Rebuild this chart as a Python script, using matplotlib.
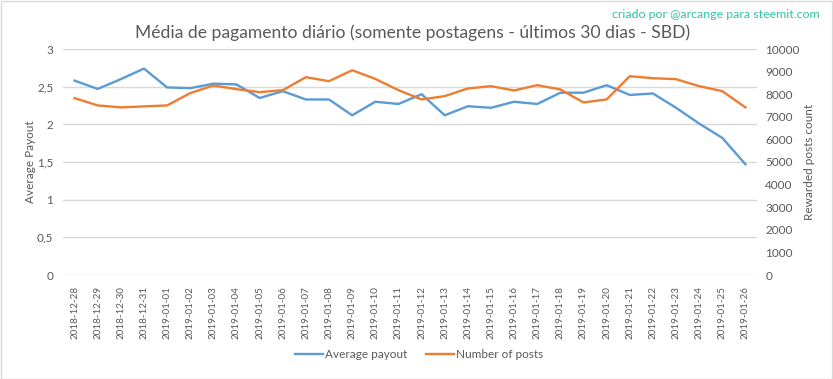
import matplotlib
matplotlib.use("Agg")
import matplotlib.pyplot as plt
from matplotlib.patches import Rectangle
from matplotlib.lines import Line2D

plt.rcParams['font.family'] = ['Lato', 'DejaVu Sans']

dates = ["2018-12-28", "2018-12-29", "2018-12-30", "2018-12-31", "2019-01-01",
         "2019-01-02", "2019-01-03", "2019-01-04", "2019-01-05", "2019-01-06",
         "2019-01-07", "2019-01-08", "2019-01-09", "2019-01-10", "2019-01-11",
         "2019-01-12", "2019-01-13", "2019-01-14", "2019-01-15", "2019-01-16",
         "2019-01-17", "2019-01-18", "2019-01-19", "2019-01-20", "2019-01-21",
         "2019-01-22", "2019-01-23", "2019-01-24", "2019-01-25", "2019-01-26"]
avg_payout = [2.58, 2.47, 2.60, 2.74, 2.49, 2.48, 2.54, 2.53, 2.35, 2.44,
              2.33, 2.33, 2.12, 2.30, 2.27, 2.40, 2.12, 2.24, 2.22, 2.30,
              2.27, 2.42, 2.42, 2.52, 2.39, 2.41, 2.22, 2.01, 1.82, 1.47]
num_posts = [7826, 7504, 7416, 7460, 7504, 8048, 8385, 8223, 8091, 8179,
             8752, 8576, 9060, 8678, 8179, 7768, 7915, 8253, 8356, 8164,
             8400, 8209, 7636, 7768, 8796, 8708, 8664, 8356, 8135, 7416]
left_ticks = [0, 0.5, 1, 1.5, 2, 2.5, 3]
left_tick_labels = ["0", "0,5", "1", "1,5", "2", "2,5", "3"]
right_ticks = [0, 1000, 2000, 3000, 4000, 5000, 6000, 7000, 8000, 9000, 10000]

TXT = "#595959"
BLUE = "#5B9BD5"
ORANGE = "#ED7D31"
GRID = "#D9D9D9"

W, H = 833, 379
fig = plt.figure(figsize=(W / 100, H / 100), dpi=100)
ax = fig.add_axes([63 / W, 1 - 275 / H, (757 - 63) / W, (275 - 49) / H])
ax2 = ax.twinx()

x = list(range(len(dates)))
ax.plot(x, avg_payout, color=BLUE, lw=1.7, solid_joinstyle='round', zorder=3)
ax2.plot(x, num_posts, color=ORANGE, lw=1.7, solid_joinstyle='round', zorder=3)

ax.set_xlim(-0.5, len(dates) - 0.5)
ax.set_ylim(0, 3)
ax2.set_ylim(0, 10000)
ax.set_yticks(left_ticks)
ax.set_yticklabels(left_tick_labels)
ax2.set_yticks(right_ticks)
ax2.set_yticklabels([str(v) for v in right_ticks])
ax.set_xticks(x)
ax.set_xticklabels(dates, rotation=90, fontsize=7.1)

ax.grid(axis='y', color=GRID, lw=1)
ax.set_axisbelow(True)
for a in (ax, ax2):
    for s in a.spines.values():
        s.set_visible(False)
    a.tick_params(length=0, colors=TXT, labelsize=8.5)
ax.tick_params(axis='x', labelsize=7.1, pad=8)
ax.tick_params(axis='y', pad=7)
ax2.tick_params(axis='y', pad=6)

ax.set_ylabel("Average Payout", color=TXT, fontsize=8.5, labelpad=1)
ax2.set_ylabel("Rewarded posts count", color=TXT, fontsize=8.5, labelpad=3)

fig.text(413 / W, 1 - 33 / H, "Média de pagamento diário (somente postagens - últimos 30 dias - SBD)",
         ha='center', va='center', color=TXT, fontsize=12.6)
fig.text(820 / W, 1 - 14 / H, "criado por @arcange para steemit.com",
         ha='right', va='center', color="#2DC5A5", fontsize=8.9)

handles = [Line2D([], [], color=BLUE, lw=1.7), Line2D([], [], color=ORANGE, lw=1.7)]
fig.legend(handles, ["Average payout", "Number of posts"], loc='center',
           bbox_to_anchor=(419 / W, 1 - 355 / H), ncol=2, frameon=False,
           fontsize=8.5, labelcolor=TXT, handlelength=2.4, handletextpad=0.15,
           columnspacing=1.6)

fig.patches.append(Rectangle((0.5 / W, 0.5 / H), 1 - 1.5 / W, 1 - 1.5 / H,
                             transform=fig.transFigure, fill=False,
                             edgecolor=GRID, lw=1))

fig.savefig("out.png", dpi=100, facecolor='white')
